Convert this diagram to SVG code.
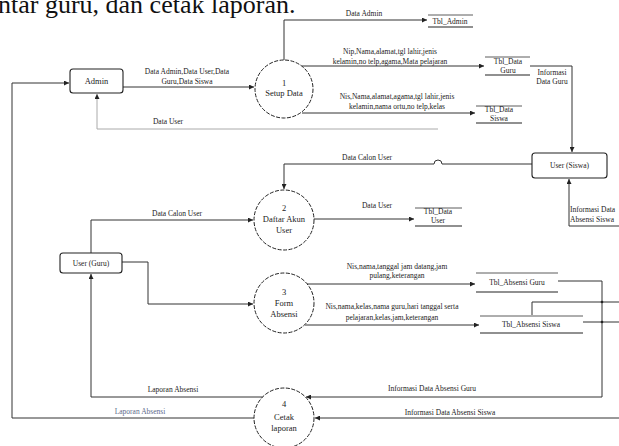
<svg xmlns="http://www.w3.org/2000/svg" width="619" height="446" viewBox="0 0 619 446">
  <style>
    .bg { fill: #ffffff; }
    .head { font-family: "Liberation Serif", serif; font-size: 26px; fill: #111; }
    .ext { fill: #fff; stroke: #222; stroke-width: 1.1; }
    .proc { fill: #fff; stroke: #222; stroke-width: 1; stroke-dasharray: 4 1.5; }
    .st-top { stroke: #333; stroke-width: 0.8; }
    .st-bot { stroke: #222; stroke-width: 1.2; }
    .flow { fill: none; stroke: #333; stroke-width: 1; marker-end: url(#arr); }
    .line { fill: none; stroke: #333; stroke-width: 1; }
    .faint { fill: none; stroke: #aaa; stroke-width: 1; marker-end: url(#arr); }
    .t { font-family: "Liberation Serif", serif; font-size: 7.5px; fill: #222; text-anchor: middle; }
    .tl { font-family: "Liberation Serif", serif; font-size: 7.5px; fill: #222; }
    .tn { font-family: "Liberation Serif", serif; font-size: 8.5px; fill: #222; text-anchor: middle; }
    .soft { fill: #5d6a8a; }
  </style>
  <defs>
    <marker id="arr" viewBox="0 0 6 6" refX="6" refY="3" markerWidth="5" markerHeight="5" markerUnits="userSpaceOnUse" orient="auto">
      <path d="M0,0 L6,3 L0,6 z" fill="#222"/>
    </marker>
  </defs>

  <rect class="bg" x="0" y="0" width="619" height="446"/>
  <text class="head" x="-2" y="13">ntar guru, dan cetak laporan.</text>

  <!-- connectors -->
  <g id="connectors">
    <path class="flow" d="M123,87 H254"/>
    <path class="flow" d="M284,60 V20 H427"/>
    <path class="flow" d="M302,66 H484"/>
    <path class="flow" d="M302,113 H475"/>
    <path class="faint" d="M438,129 H97 V94"/>
    <path class="flow" d="M530,66 H572 V152"/>
    <path class="flow" d="M532,164 H442 a4,4 0 0 0 -8,0 H284 V189"/>
    <path class="flow" d="M619,226 H569 V179"/>
    <path class="flow" d="M91,253 V220 H253"/>
    <path class="flow" d="M314,219 H414"/>
    <path class="flow" d="M122,262 H148 V304 H253"/>
    <path class="flow" d="M307,284 H475"/>
    <path class="flow" d="M305,325 H479"/>
    <path class="flow" d="M558,281 H602 V397 H306"/>
    <path class="flow" d="M619,418 H315"/>
    <path class="flow" d="M263,397 H91 V274"/>
    <path class="flow" d="M254,418 H12 V83 H69"/>
    <path class="line" d="M532,315 V302 H619"/>
    <path class="line" d="M583,322 H619"/>
    <circle cx="602" cy="302" r="1.3" fill="#222"/>
    <circle cx="602" cy="322" r="1.3" fill="#222"/>

    <text class="t" x="187" y="74">Data Admin,Data User,Data</text>
    <text class="t" x="187" y="84">Guru,Data Siswa</text>
    <text class="t" x="168" y="124">Data User</text>
    <text class="t" x="364" y="16">Data Admin</text>
    <text class="t" x="390" y="54">Nip,Nama,alamat,tgl lahir,jenis</text>
    <text class="t" x="390" y="64">kelamin,no telp,agama,Mata pelajaran</text>
    <text class="t" x="397" y="99">Nis,Nama,alamat,agama,tgl lahir,jenis</text>
    <text class="t" x="397" y="109">kelamin,nama ortu,no telp,kelas</text>
    <text class="t" x="552" y="75">Informasi</text>
    <text class="t" x="552" y="84">Data Guru</text>
    <text class="t" x="367" y="160">Data Calon User</text>
    <text class="tl" x="570" y="212">Informasi Data</text>
    <text class="tl" x="570" y="222">Absensi Siswa</text>
    <text class="t" x="177" y="216">Data Calon User</text>
    <text class="t" x="377" y="208">Data User</text>
    <text class="t" x="397" y="269">Nis,nama,tanggal jam datang,jam</text>
    <text class="t" x="397" y="278">pulang,keterangan</text>
    <text class="t" x="392" y="309">Nis,nama,kelas,nama guru,hari tanggal serta</text>
    <text class="t" x="392" y="320">pelajaran,kelas,jam,keterangan</text>
    <text class="t" x="432" y="391">Informasi Data Absensi Guru</text>
    <text class="t" x="450" y="415">Informasi Data Absensi Siswa</text>
    <text class="t" x="173" y="392">Laporan Absensi</text>
    <text class="t soft" x="140" y="414">Laporan Absensi</text>
  </g>

  <!-- external entities -->
  <g id="admin">
    <rect class="ext" x="70" y="69" width="53" height="24" rx="3"/>
    <text class="tn" x="96.5" y="84">Admin</text>
  </g>
  <g id="user-siswa">
    <rect class="ext" x="532" y="153" width="75" height="25" rx="3"/>
    <text class="t" x="569.5" y="168">User (Siswa)</text>
  </g>
  <g id="user-guru">
    <rect class="ext" x="60" y="253" width="62" height="20" rx="3"/>
    <text class="t" x="91" y="266">User (Guru)</text>
  </g>

  <!-- processes -->
  <g id="p1">
    <circle class="proc" cx="284" cy="89" r="29"/>
    <text class="tn" x="284" y="86">1</text>
    <text class="tn" x="284" y="96">Setup Data</text>
  </g>
  <g id="p2">
    <circle class="proc" cx="284" cy="220" r="30"/>
    <text class="tn" x="284" y="211">2</text>
    <text class="tn" x="284" y="222">Daftar Akun</text>
    <text class="tn" x="284" y="233">User</text>
  </g>
  <g id="p3">
    <circle class="proc" cx="284" cy="303" r="30"/>
    <text class="tn" x="284" y="295">3</text>
    <text class="tn" x="284" y="306">Form</text>
    <text class="tn" x="284" y="317">Absensi</text>
  </g>
  <g id="p4">
    <circle class="proc" cx="284" cy="418" r="30"/>
    <text class="tn" x="284" y="407">4</text>
    <text class="tn" x="284" y="420">Cetak</text>
    <text class="tn" x="284" y="431">laporan</text>
  </g>

  <!-- data stores -->
  <g id="tbl-admin">
    <line class="st-top" x1="428" y1="15" x2="473" y2="15"/>
    <line class="st-bot" x1="428" y1="27" x2="473" y2="27"/>
    <text class="t" x="450" y="24">Tbl_Admin</text>
  </g>
  <g id="tbl-data-guru">
    <line class="st-top" x1="485" y1="57" x2="530" y2="57"/>
    <line class="st-bot" x1="485" y1="75" x2="530" y2="75"/>
    <text class="t" x="508" y="64">Tbl_Data</text>
    <text class="t" x="508" y="73">Guru</text>
  </g>
  <g id="tbl-data-siswa">
    <line class="st-top" x1="476" y1="106" x2="522" y2="106"/>
    <line class="st-bot" x1="476" y1="123" x2="522" y2="123"/>
    <text class="t" x="499" y="112">Tbl_Data</text>
    <text class="t" x="499" y="121">Siswa</text>
  </g>
  <g id="tbl-data-user">
    <line class="st-top" x1="415" y1="208" x2="462" y2="208"/>
    <line class="st-bot" x1="415" y1="226" x2="462" y2="226"/>
    <text class="t" x="438" y="214">Tbl_Data</text>
    <text class="t" x="438" y="223">User</text>
  </g>
  <g id="tbl-absensi-guru">
    <line class="st-top" x1="476" y1="273" x2="558" y2="273"/>
    <line class="st-bot" x1="476" y1="292" x2="558" y2="292"/>
    <text class="t" x="517" y="285">Tbl_Absensi Guru</text>
  </g>
  <g id="tbl-absensi-siswa">
    <line class="st-top" x1="480" y1="316" x2="583" y2="316"/>
    <line class="st-bot" x1="480" y1="333" x2="583" y2="333"/>
    <text class="t" x="531" y="327">Tbl_Absensi Siswa</text>
  </g>
</svg>
